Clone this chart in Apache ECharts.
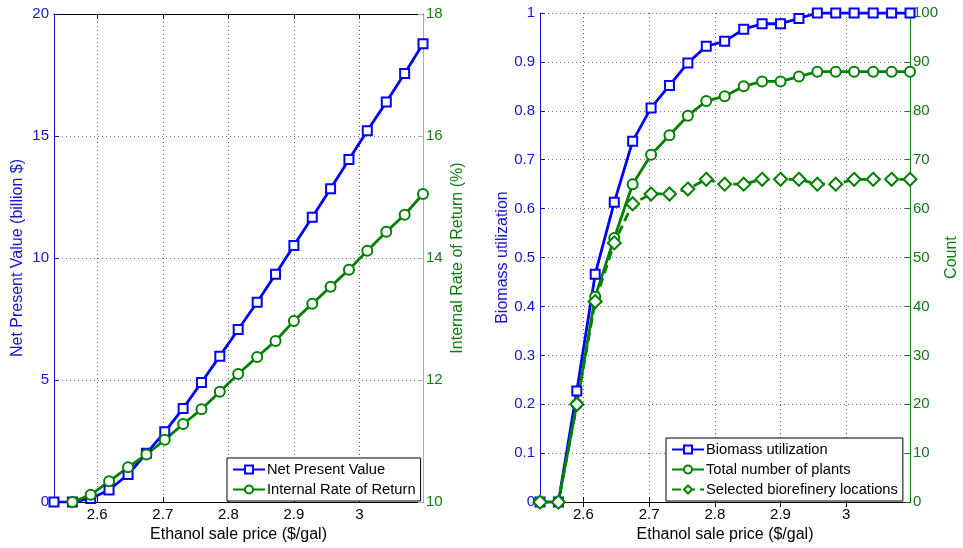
<!DOCTYPE html>
<html>
<head>
<meta charset="utf-8">
<script src="https://cdn.jsdelivr.net/npm/echarts@6/dist/echarts.min.js"></script>
<style>
  html, body { margin: 0; padding: 0; background: #fff; }
  #main { width: 963px; height: 548px; }
</style>
</head>
<body>
<div id="main"></div>
<script>
// ethanol sale price ($/gal), shared by both panels
var price = [2.534, 2.562, 2.590, 2.618, 2.647, 2.675, 2.703, 2.731, 2.759, 2.787, 2.815,
             2.844, 2.872, 2.900, 2.928, 2.956, 2.984, 3.012, 3.041, 3.069, 3.097];
var xTicks = [2.6, 2.7, 2.8, 2.9, 3];

// left panel
var npv = [0, 0, 0.15, 0.5, 1.13, 2.0, 2.88, 3.84, 4.9, 5.98, 7.07,
           8.19, 9.34, 10.51, 11.67, 12.84, 14.04, 15.22, 16.39, 17.56, 18.78];
var irr = [null, 10.0, 10.12, 10.34, 10.57, 10.78, 11.02, 11.28, 11.52, 11.81, 12.10,
           12.38, 12.64, 12.97, 13.25, 13.53, 13.81, 14.12, 14.43, 14.71, 15.05];

// right panel
var biomass = [0, 0, 0.227, 0.466, 0.613, 0.738, 0.806, 0.852, 0.898, 0.932, 0.942,
               0.967, 0.978, 0.978, 0.989, 1, 1, 1, 1, 1, 1];
var plants = [0, 0, 20, 42, 54, 65, 71, 75, 79, 82, 83,
              85, 86, 86, 87, 88, 88, 88, 88, 88, 88];
var locations = [0, 0, 20, 41, 53, 61, 63, 63, 64, 66, 65,
                 65, 66, 66, 66, 65, 65, 66, 66, 66, 66];

var BLUE = '#0000ff', GREEN = '#008000';
var AXBLUE = '#1515c8', AXGREEN = '#117a11';
var FONT = 'Liberation Sans, Arial, sans-serif';

function pairs(ys) {
    return price.map(function (x, i) { return ys[i] == null ? null : [x, ys[i]]; })
                .filter(function (p) { return p !== null; });
}

function xBottom(gi) {
    return {
        type: 'value', gridIndex: gi, min: 2.534, max: 3.097,
        name: 'Ethanol sale price ($/gal)', nameLocation: 'middle', nameGap: 21,
        nameTextStyle: { color: '#000', fontSize: 16, fontFamily: FONT },
        axisLine: { lineStyle: { color: '#000', width: 1 } },
        axisTick: { inside: true, length: 5, customValues: xTicks, lineStyle: { color: '#000' } },
        axisLabel: { customValues: xTicks, color: '#000', fontSize: 15, fontFamily: FONT, margin: 5 },
        splitLine: { show: true, lineStyle: { color: '#555', type: [1, 3], width: 1 } }
    };
}
function xTop(gi) {
    return {
        type: 'value', gridIndex: gi, position: 'top', min: 2.534, max: 3.097,
        axisLine: { lineStyle: { color: '#000', width: 1 } },
        axisTick: { inside: true, length: 5, customValues: xTicks, lineStyle: { color: '#000' } },
        axisLabel: { show: false }, splitLine: { show: false }
    };
}
function yAxis(gi, pos, min, max, step, name, col, lineCol, gap, grid) {
    return {
        type: 'value', gridIndex: gi, position: pos, min: min, max: max, interval: step,
        name: name, nameLocation: 'middle', nameGap: gap, nameRotate: 90,
        nameTextStyle: { color: col, fontSize: 16, fontFamily: FONT },
        axisLine: { show: true, lineStyle: { color: lineCol, width: 1 } },
        axisTick: { show: true, inside: true, length: 5, lineStyle: { color: lineCol } },
        axisLabel: { color: col, fontSize: 15, fontFamily: FONT, margin: pos === 'left' ? 5 : 3 },
        splitLine: { show: grid, lineStyle: { color: '#6f6fb8', type: [1, 3], width: 1 } }
    };
}
function line(name, xi, yi, ys, col, sym, size, dashed) {
    return {
        name: name, type: 'line', xAxisIndex: xi, yAxisIndex: yi, data: pairs(ys),
        symbol: sym, symbolSize: size, showAllSymbol: true,
        lineStyle: { color: col, width: 2.8, type: dashed ? [9, 5] : 'solid' },
        itemStyle: { color: col, borderColor: col, borderWidth: 2.2 },
        emphasis: { disabled: true }
    };
}
function legend(names, left, top) {
    return {
        data: names, orient: 'vertical', left: left, top: top,
        backgroundColor: '#fff', borderColor: '#000', borderWidth: 1, borderRadius: 0,
        padding: [4, 5, 4, 5], itemGap: 5, itemWidth: 32, itemHeight: 10,
        textStyle: { color: '#000', fontSize: 14.7, fontFamily: FONT, padding: [0, 0, 0, -3] },
        selectedMode: false
    };
}

var chart = echarts.init(document.getElementById('main'));
chart.setOption({
    animation: false,
    backgroundColor: '#fff',
    grid: [
        { left: 54, right: 540, top: 14, bottom: 45 },
        { left: 540, right: 53, top: 13, bottom: 45 }
    ],
    xAxis: [xBottom(0), xTop(0), xBottom(1), xTop(1)],
    yAxis: [
        yAxis(0, 'left', 0, 20, 5, 'Net Present Value (billion $)', AXBLUE, AXBLUE, 28, true),
        yAxis(0, 'right', 10, 18, 2, 'Internal Rate of Return (%)', AXGREEN, '#8fc08f', 27, false),
        yAxis(1, 'left', 0, 1, 0.1, 'Biomass utilization', AXBLUE, AXBLUE, 29, true),
        yAxis(1, 'right', 0, 100, 10, 'Count', AXGREEN, AXGREEN, 34, false)
    ],
    legend: [
        legend(['Net Present Value', 'Internal Rate of Return'], 227, 458),
        legend(['Biomass utilization', 'Total number of plants', 'Selected biorefinery locations'], 666, 438)
    ],
    series: [
        line('Net Present Value', 0, 0, npv, BLUE, 'emptyRect', 9, false),
        line('Internal Rate of Return', 0, 1, irr, GREEN, 'emptyCircle', 10, false),
        line('Biomass utilization', 2, 2, biomass, BLUE, 'emptyRect', 9, false),
        line('Total number of plants', 2, 3, plants, GREEN, 'emptyCircle', 10, false),
        line('Selected biorefinery locations', 2, 3, locations, GREEN, 'emptyDiamond', 13, true)
    ]
});
</script>
</body>
</html>
